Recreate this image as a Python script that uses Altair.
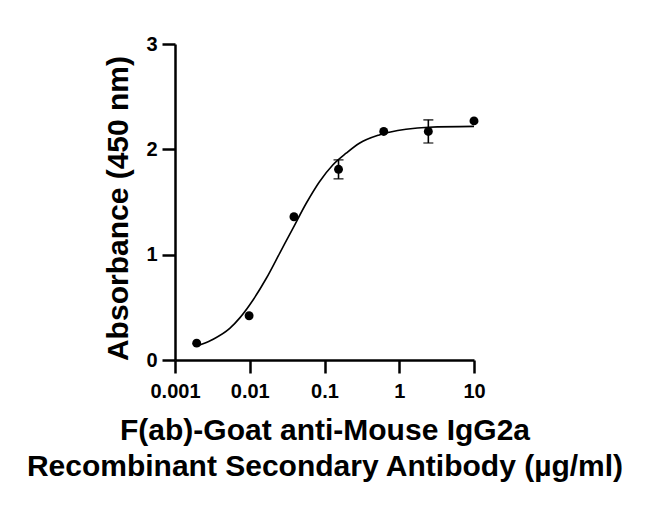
import altair as alt
import pandas as pd

# measured data points
conc = [0.00195, 0.0098, 0.039, 0.154, 0.62, 2.45, 10.0]
absorb = [0.16, 0.42, 1.36, 1.81, 2.17, 2.17, 2.27]
err = [0.0, 0.0, 0.0, 0.09, 0.0, 0.11, 0.0]

# fitted curve
curve_x = [0.00195, 0.00215, 0.00324, 0.0054, 0.00736, 0.01107, 0.01667, 0.0251,
           0.0378, 0.057, 0.0857, 0.129, 0.1945, 0.293, 0.54, 1.23, 2.5, 10.0]
curve_y = [0.13, 0.142, 0.197, 0.30, 0.40, 0.57, 0.776, 1.013,
           1.25, 1.488, 1.693, 1.852, 1.963, 2.058, 2.137, 2.19, 2.21, 2.218]

x_ticks = [0.001, 0.01, 0.1, 1, 10]
y_ticks = [0, 1, 2, 3]

pts = pd.DataFrame({"conc": conc, "abs": absorb, "err": err})
pts["lo"] = pts["abs"] - pts["err"]
pts["hi"] = pts["abs"] + pts["err"]
eb = pts[pts["err"] > 0]
cur = pd.DataFrame({"conc": curve_x, "abs": curve_y})

FONT = "Liberation Sans"

xs = alt.Scale(type="log", domain=[0.001, 10], nice=False)
ys = alt.Scale(domain=[0, 3], nice=False)

x_axis = alt.Axis(
    values=x_ticks, format="~g", grid=False,
    title=["F(ab)-Goat anti-Mouse IgG2a", "Recombinant Secondary Antibody (µg/ml)"],
    titleFontSize=30, titleFont=FONT, titleFontWeight="bold", titleColor="black",
    titleLineHeight=36, titlePadding=14,
    labelFontSize=20, labelFont=FONT, labelFontWeight="bold", labelColor="black",
    labelPadding=8, tickSize=13, tickWidth=2.5, tickColor="black",
    domainColor="black", domainWidth=2.5, labelFlush=False, labelOverlap=False,
)
y_axis = alt.Axis(
    values=y_ticks, format="d", grid=False, title="Absorbance (450 nm)",
    titleFontSize=30, titleFont=FONT, titleFontWeight="bold", titleColor="black",
    titlePadding=12, titleY=164,
    labelFontSize=20, labelFont=FONT, labelFontWeight="bold", labelColor="black",
    labelPadding=5, tickSize=13, tickWidth=2.5, tickColor="black",
    domainColor="black", domainWidth=2.5, labelFlush=False,
)

line = alt.Chart(cur).mark_line(color="black", strokeWidth=1.6, interpolate="monotone").encode(
    x=alt.X("conc:Q", scale=xs, axis=x_axis),
    y=alt.Y("abs:Q", scale=ys, axis=y_axis),
)
rules = alt.Chart(eb).mark_rule(color="black", strokeWidth=1.6).encode(
    x=alt.X("conc:Q", scale=xs), y=alt.Y("lo:Q", scale=ys), y2="hi:Q"
)
cap_lo = alt.Chart(eb).mark_tick(color="black", thickness=1.6, size=10, orient="horizontal").encode(
    x=alt.X("conc:Q", scale=xs), y=alt.Y("lo:Q", scale=ys)
)
cap_hi = alt.Chart(eb).mark_tick(color="black", thickness=1.6, size=10, orient="horizontal").encode(
    x=alt.X("conc:Q", scale=xs), y=alt.Y("hi:Q", scale=ys)
)
dots = alt.Chart(pts).mark_point(filled=True, color="black", size=80, opacity=1, shape="circle").encode(
    x=alt.X("conc:Q", scale=xs), y=alt.Y("abs:Q", scale=ys)
)

chart = alt.layer(line, rules, cap_lo, cap_hi, dots).properties(
    width=299, height=316,
    autosize=alt.AutoSizeParams(type="none"),
    padding={"left": 167, "top": 36, "right": 160, "bottom": 130},
    background="white",
).configure_view(stroke=None)

chart.save("out.html", embed_options={"renderer": "svg", "actions": False})
